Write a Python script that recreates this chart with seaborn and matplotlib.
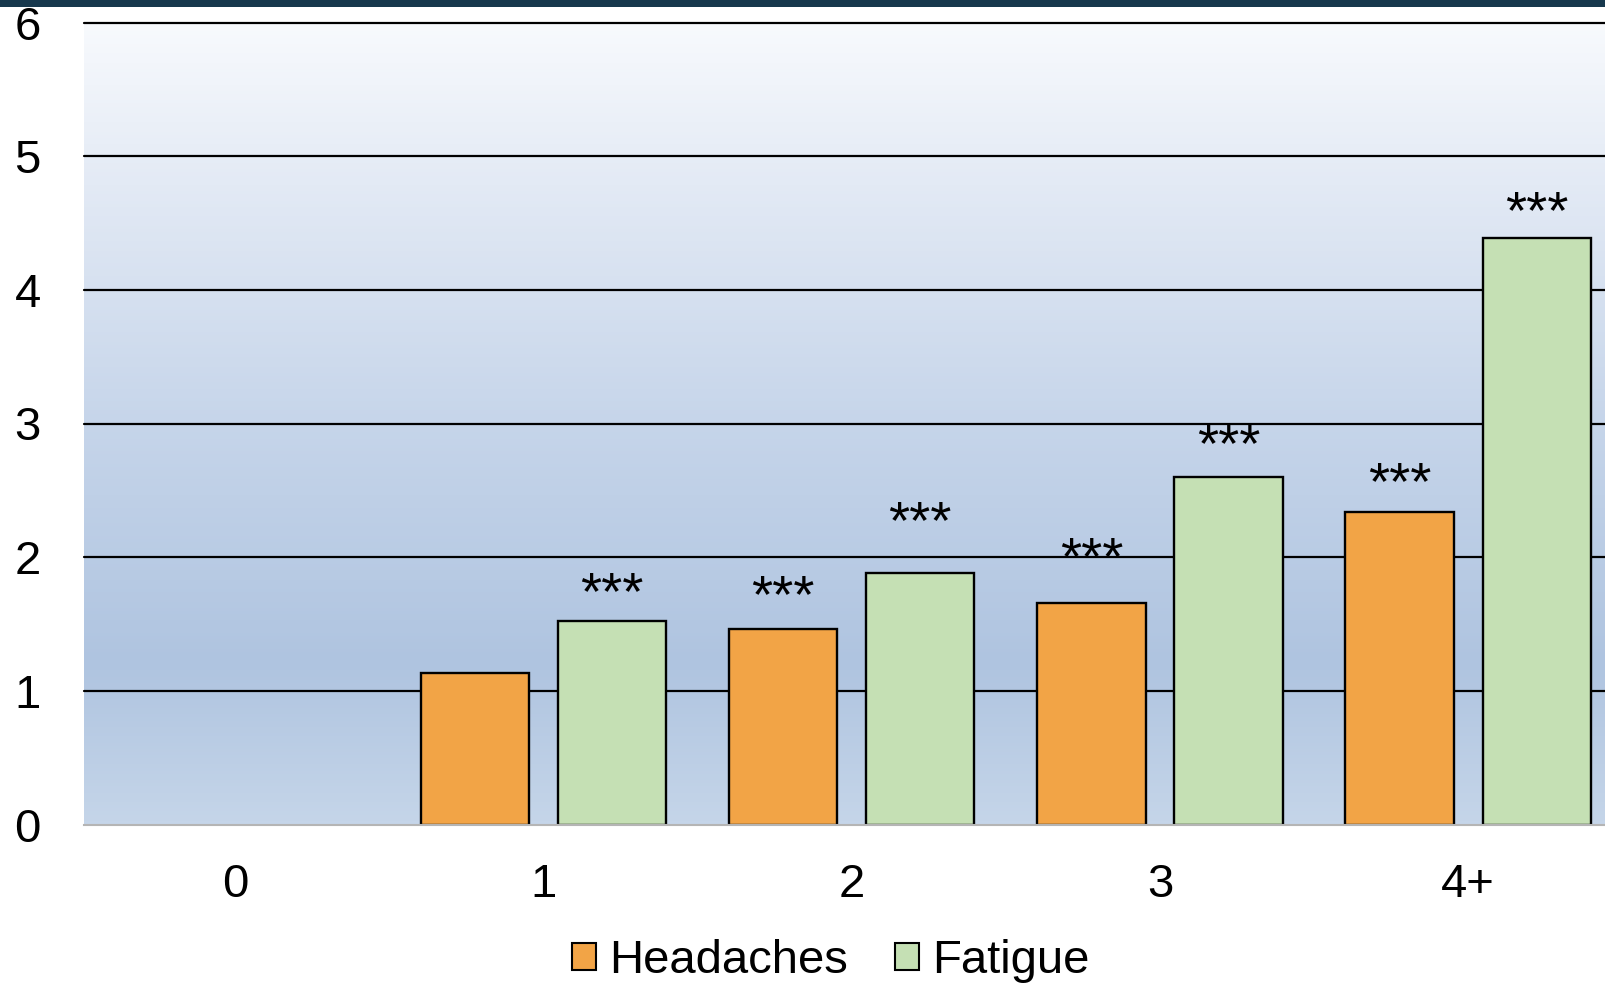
import numpy as np
import pandas as pd
import matplotlib
matplotlib.use("Agg")
import matplotlib.pyplot as plt
from matplotlib.colors import LinearSegmentedColormap
from matplotlib.patches import Rectangle
import seaborn as sns

# Categories and series values (reference category "0" has no bars)
categories = ["0", "1", "2", "3", "4+"]
headaches = [None, 1.13, 1.46, 1.66, 2.34]
fatigue = [None, 1.52, 1.88, 2.60, 4.39]
# Significance markers per series and category, with the level they sit at
headache_stars = ["", "", "***", "***", "***"]
fatigue_stars = ["", "***", "***", "***", "***"]
headache_star_level = [None, None, 1.77, 2.05, 2.61]
fatigue_star_level = [None, 1.79, 2.32, 2.90, 4.64]
yticks = [0, 1, 2, 3, 4, 5, 6]

rows = []
for c, h, f in zip(categories, headaches, fatigue):
    if h is not None:
        rows.append({"group": c, "series": "Headaches", "value": h})
    if f is not None:
        rows.append({"group": c, "series": "Fatigue", "value": f})
df = pd.DataFrame(rows)

sns.set_theme(style="white")
plt.rcParams["font.family"] = ["Liberation Sans", "DejaVu Sans"]
plt.rcParams["text.color"] = "black"
plt.rcParams["xtick.color"] = "black"
plt.rcParams["ytick.color"] = "black"

FS = 34
W, H, DPI = 1606, 983, 100
fig = plt.figure(figsize=(W / DPI, H / DPI), dpi=DPI)
fig.patch.set_facecolor("white")

left, bottom = 84 / W, (H - 824.5) / H
top = (H - 22.5) / H
ax = fig.add_axes([left, bottom, 1541.5 / W, top - bottom])

x0, x1 = -0.49, 4.51

# Vertical gradient behind the bars
grad_cmap = LinearSegmentedColormap.from_list(
    "bg",
    [(0.0, "#c5d5e9"), (0.2, "#afc4e0"), (0.5, "#c6d5ea"),
     (0.8, "#e3eaf5"), (1.0, "#f8fafd")],
)
ax.imshow(np.linspace(0, 1, 256).reshape(-1, 1), cmap=grad_cmap,
          extent=(x0, x1, 0, 6), origin="lower", aspect="auto", zorder=0)

for y in yticks[1:]:
    ax.axhline(y, color="black", lw=1.6, zorder=0.5, clip_on=False)

palette = {"Headaches": "#f2a446", "Fatigue": "#c5e0b4"}
sns.barplot(data=df, x="group", y="value", hue="series", order=categories,
            hue_order=["Headaches", "Fatigue"], palette=palette,
            width=0.89, gap=0.21, edgecolor="black", linewidth=1.7,
            saturation=1, errorbar=None, legend=False, ax=ax, zorder=2)

ax.set_xlim(x0, x1)
ax.set_ylim(0, 6)
ax.set_yticks(yticks)
ax.set_xlabel("")
ax.set_ylabel("")
ax.tick_params(axis="y", labelsize=FS, pad=31, length=0, labelcolor="black")
ax.tick_params(axis="x", labelsize=FS, pad=28, length=0, labelcolor="black")
for s in ["left", "right", "top"]:
    ax.spines[s].set_visible(False)
ax.spines["bottom"].set_color("#b5b5b5")
ax.spines["bottom"].set_linewidth(1.5)

# Significance stars above bars
STAR_FS = 39
star_sets = [(headache_stars, headache_star_level),
             (fatigue_stars, fatigue_star_level)]
for container, (stars, levels) in zip(ax.containers, star_sets):
    for patch in container.patches:
        hgt = patch.get_height()
        if not np.isfinite(hgt):
            continue
        xc = patch.get_x() + patch.get_width() / 2
        idx = int(round(xc))
        if stars[idx]:
            ax.annotate(stars[idx], (xc, levels[idx]), xytext=(0, -0.44 * STAR_FS),
                        textcoords="offset points", ha="center", va="baseline",
                        fontsize=STAR_FS, color="black", zorder=3)

# Legend below the axis
handles = [Rectangle((0, 0), 1, 1, facecolor=palette[k], edgecolor="black", lw=1.5)
           for k in ["Headaches", "Fatigue"]]
fig.legend(handles, ["Headaches", "Fatigue"], loc="center",
           bbox_to_anchor=(831 / W, 1 - 961 / H), ncol=2, frameon=False,
           fontsize=FS, handlelength=0.5, handleheight=0.5,
           handletextpad=0.28, columnspacing=1.0)

# Dark band across the top edge
fig.patches.append(Rectangle((0, 1 - 7 / H), 1, 7 / H, transform=fig.transFigure,
                             facecolor="#17384d", edgecolor="none", zorder=10))

fig.savefig("out.png", dpi=DPI)
